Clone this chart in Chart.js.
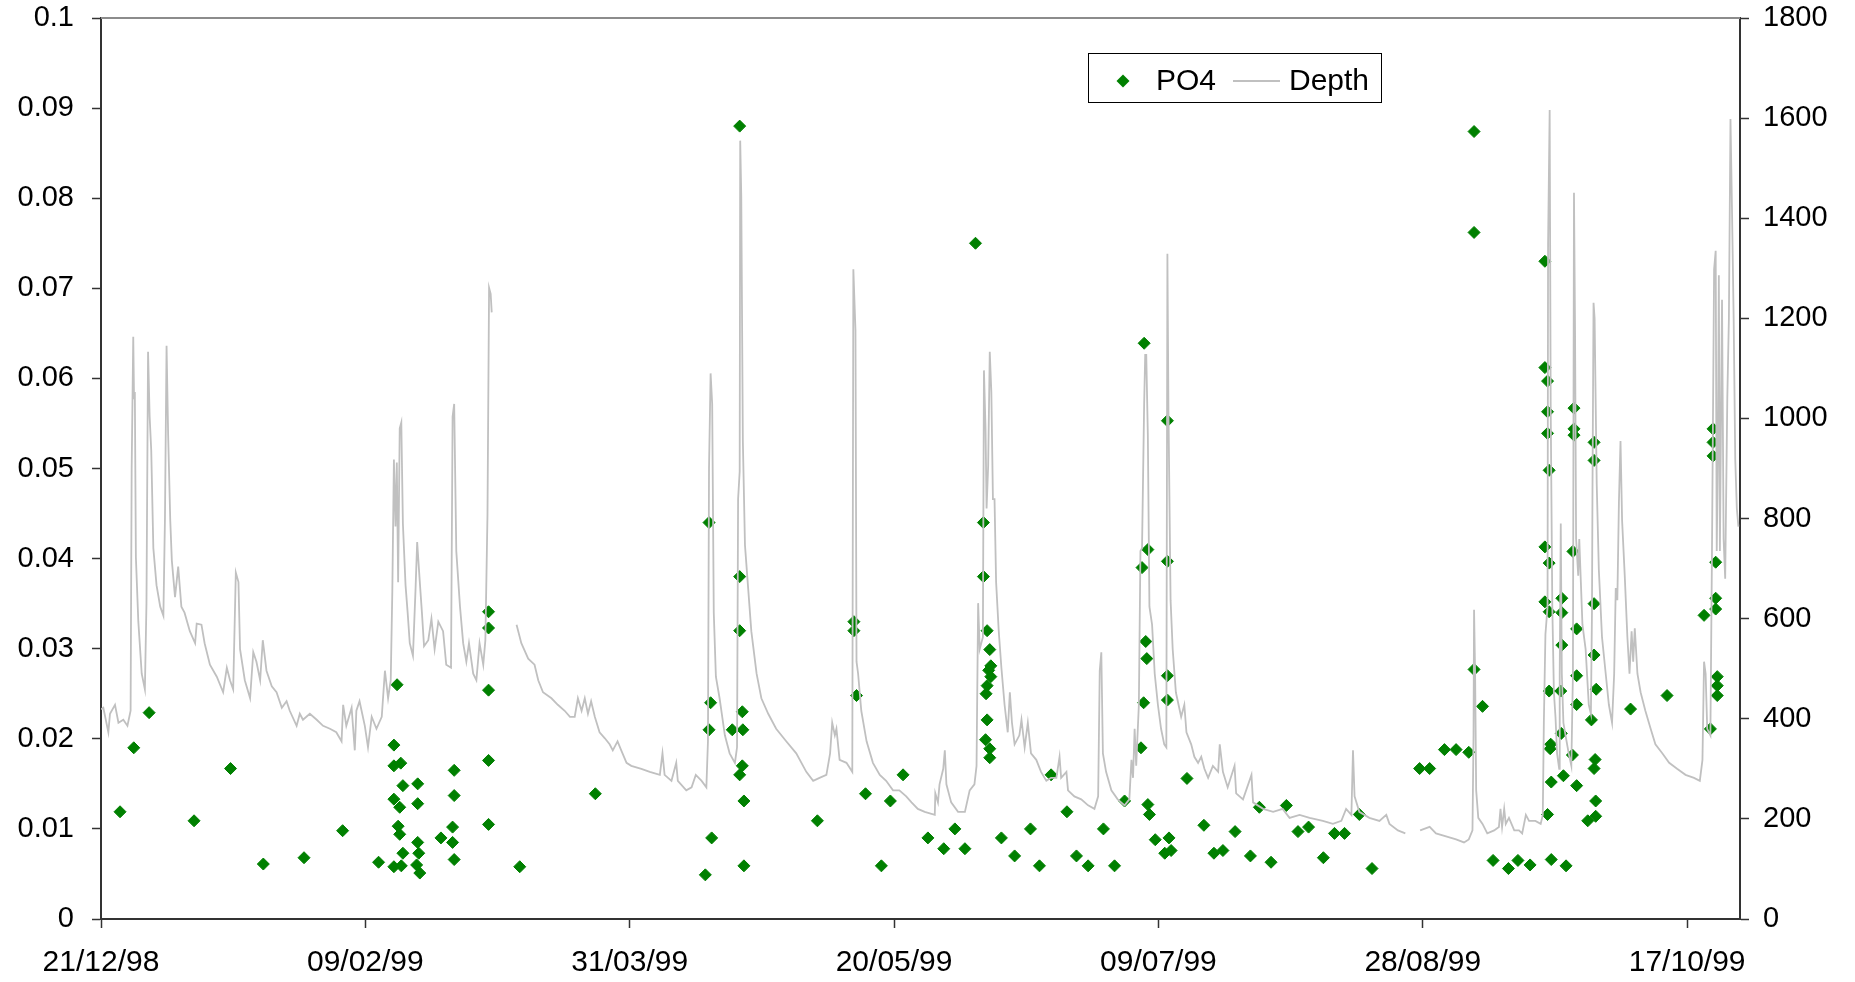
<!DOCTYPE html>
<html>
<head>
<meta charset="utf-8">
<title>PO4 e Depth</title>
<script src="https://cdn.jsdelivr.net/npm/chart.js@4.4.0/dist/chart.umd.min.js"></script>
<style>
    html, body { margin: 0; padding: 0; background: #ffffff; }
</style>
</head>
<body>
<canvas id="chartPO4" width="1855" height="982"></canvas>
<script>
// dias contados a partir de 21/12/98
var xTickDays = [0, 50, 100, 150, 200, 250, 300];
var xTickLabels = ['21/12/98', '09/02/99', '31/03/99', '20/05/99', '09/07/99', '28/08/99', '17/10/99'];
var po4Ticks = [0, 0.01, 0.02, 0.03, 0.04, 0.05, 0.06, 0.07, 0.08, 0.09, 0.1];
var depthTicks = [0, 200, 400, 600, 800, 1000, 1200, 1400, 1600, 1800];

// Depth (linha cinza) - null = falha nos dados
var depthDays = [
    0, 0.44, 1.39, 1.7, 2.65, 3.3, 4.22, 5.0, 5.6, 5.8, 6.1, 6.25, 6.4, 6.6, 7.06, 7.7, 8.3, 8.6, 8.9, 9.2,
    9.5, 9.9, 10.5, 11.2, 11.8, 12.1, 12.4, 12.7, 13.1, 13.4, 14.0, 14.6, 15.2, 15.8, 16.8, 17.8, 18.1, 19.0, 19.6, 20.6,
    21.9, 23.1, 23.8, 24.4, 25.0, 25.5, 26.0, 26.3, 27.2, 28.2, 28.8, 29.4, 30.1, 30.6, 31.3, 32.3, 33.2, 34.2, 35.1, 35.7,
    37.0, 37.6, 38.2, 39.5, 40.8, 42.0, 43.3, 44.5, 45.5, 45.8, 46.4, 47.4, 48.0, 48.3, 48.9, 49.9, 50.5, 51.2, 52.1, 53.1,
    53.7, 54.3, 54.8, 55.1, 55.4, 55.7, 55.95, 56.2, 56.5, 56.8, 57.1, 57.6, 58.0, 58.4, 59.0, 59.5, 59.8, 60.3, 60.7, 61.1,
    61.9, 62.5, 63.1, 63.8, 64.7, 65.3, 66.2, 66.5, 66.8, 67.2, 67.9, 68.5, 69.1, 69.6, 70.4, 71.0, 71.6, 72.3, 72.7, 73.1,
    73.4, 73.7, 73.9, 76, 78.6, 79.5, 80.8, 82.0, 82.7, 83.6, 85.2, 86.4, 87.7, 88.7, 89.6, 90.2, 90.9, 91.5, 92.1, 92.7,
    93.4, 94.3, 95.3, 96.2, 96.8, 97.7, 98.4, 99.4, 100.3, 102.2, 103.8, 105.7, 106.2, 106.6, 107.9, 108.8, 109.1, 110.7, 111.7, 112.5,
    113.6, 114.5, 114.8, 115.0, 115.3, 115.6, 115.9, 116.3, 117.0, 118.0, 118.9, 119.9, 120.3, 120.5, 120.8, 120.9, 121.1, 121.4, 121.8, 122.4,
    123.0, 124.0, 124.9, 126.2, 127.7, 129.6, 131.5, 133.4, 134.7, 135.9, 137.2, 137.9, 138.3, 138.8, 139.1, 139.7, 141.0, 142.1, 142.3, 142.7,
    142.9, 143.2, 143.8, 144.8, 146.0, 147.3, 148.5, 149.8, 151.0, 152.3, 153.3, 154.5, 155.8, 157.7, 157.8, 158.3, 158.6, 159.3, 159.6, 159.9,
    160.8, 162.1, 163.4, 164.3, 165.2, 165.6, 165.9, 166.2, 166.8, 167.0, 167.3, 167.5, 167.8, 168.1, 168.4, 168.7, 169.0, 169.3, 169.8, 170.3,
    170.9, 171.5, 171.9, 172.3, 172.8, 173.7, 174.1, 174.7, 175.3, 175.9, 176.9, 177.8, 178.8, 179.7, 180.7, 181.3, 181.6, 182.6, 182.9, 184.1,
    185.4, 186.7, 187.9, 188.6, 188.9, 189.2, 189.5, 190.1, 191.1, 192.3, 193.6, 194.5, 194.9, 195.2, 195.5, 195.8, 196.3, 196.6, 196.9, 197.3,
    197.5, 197.7, 198.0, 198.3, 198.8, 199.3, 199.9, 200.5, 201.1, 201.5, 201.7, 201.9, 202.3, 202.7, 203.3, 204.3, 204.9, 205.3, 206.2, 206.8,
    207.5, 208.1, 208.7, 209.4, 210.3, 211.3, 211.6, 212.2, 213.1, 214.4, 214.7, 216.0, 217.6, 217.9, 219.8, 221.7, 223.5, 224.8, 226.7, 228.6,
    231.1, 233.0, 234.6, 235.5, 236.5, 236.8, 237.1, 238.0, 239.9, 241.8, 243.1, 243.7, 245.3, 246.7, 248, 249.5, 251.3, 252.5, 254.4, 256.3,
    257.8, 258.7, 259.4, 259.6, 259.7, 259.9, 260.1, 260.5, 261.3, 262.2, 263.5, 264.4, 264.7, 265.0, 265.4, 265.7, 266.3, 267.3, 268.2, 268.8,
    269.5, 270.1, 271.3, 272.3, 272.7, 272.9, 273.2, 273.6, 273.7, 274.0, 274.2, 274.5, 274.8, 275.1, 275.4, 275.8, 275.9, 276.1, 276.3, 276.6,
    277.0, 277.6, 278.1, 278.4, 278.6, 278.8, 279.0, 279.4, 279.6, 279.9, 280.2, 280.8, 281.4, 281.8, 282.0, 282.1, 282.3, 282.5, 282.9, 283.3,
    283.9, 284.6, 285.2, 285.8, 286.2, 286.5, 286.8, 287.1, 287.4, 287.7, 288.2, 288.7, 289.1, 289.5, 289.8, 290.1, 290.6, 291.2, 292.1, 293.1,
    294.0, 295.3, 296.6, 298.1, 299.7, 301.3, 302.4, 302.9, 303.2, 303.5, 303.8, 304.4, 304.7, 305.1, 305.4, 305.6, 305.8, 306.0, 306.2, 306.6,
    306.9, 307.2, 307.6, 307.9, 308.2, 308.5, 308.8, 309.1, 309.4, 309.7
];
var depthValues = [
    419, 422, 373, 410, 428, 392, 398, 386, 416, 900, 1163, 1040, 1053, 722, 594, 490, 459, 631, 1133, 1004,
    937, 741, 667, 624, 606, 802, 1145, 967, 796, 716, 643, 704, 624, 612, 575, 551, 590, 588, 551, 508,
    484, 453, 502, 477, 459, 692, 673, 539, 477, 441, 533, 514, 477, 557, 496, 465, 453, 422, 435, 416,
    386, 410, 398, 410, 398, 386, 380, 373, 355, 428, 386, 422, 337, 416, 435, 386, 343, 404, 380, 404,
    496, 441, 477, 655, 918, 784, 912, 673, 980, 992, 790, 667, 612, 551, 526, 661, 753, 673, 612, 545,
    557, 600, 539, 594, 575, 508, 502, 1004, 1029, 735, 624, 551, 514, 551, 490, 477, 551, 508, 557, 808,
    1261, 1249, 1212, null, 588, 551, 520, 508, 477, 453, 441, 428, 416, 404, 404, 441, 416, 441, 410, 435,
    404, 373, 361, 349, 337, 355, 337, 312, 306, 300, 294, 288, 331, 288, 276, 312, 276, 257, 263, 288,
    276, 263, 355, 900, 1090, 1029, 612, 484, 441, 367, 331, 312, 343, 839, 894, 1555, 1445, 955, 747, 661,
    575, 490, 441, 410, 380, 355, 331, 294, 276, 282, 288, 331, 392, 367, 380, 318, 312, 294, 1298, 1176,
    514, 490, 416, 355, 312, 288, 276, 257, 257, 245, 233, 220, 214, 208, 251, 233, 269, 300, 337, 269,
    233, 214, 214, 257, 269, 306, 631, 539, 563, 1096, 980, 820, 906, 1133, 1053, 839, 839, 673, 575, 502,
    428, 373, 453, 392, 349, 367, 398, 343, 392, 331, 318, 294, 276, 282, 282, 324, 282, 294, 257, 245,
    239, 227, 220, 245, 496, 533, 331, 294, 257, 239, 227, 239, 318, 282, 380, 306, 428, 735, 741, 1029,
    1127, 1127, 967, 624, 588, 490, 428, 380, 349, 343, 1329, 1016, 637, 539, 453, 404, 428, 373, 349, 324,
    312, 324, 300, 282, 306, 294, 349, 294, 263, 306, 251, 239, 288, 233, 220, 214, 220, 202, 208, 202,
    196, 190, 196, 220, 208, 337, 245, 214, 202, 196, 208, 190, 177, 171, null, 177, 184, 171, 165, 159,
    153, 159, 177, 367, 618, 490, 257, 202, 190, 171, 177, 184, 220, 184, 220, 190, 202, 177, 177, 171,
    208, 196, 196, 190, 208, 392, 569, 624, 1347, 1616, 1016, 624, 453, 404, 331, 300, 490, 790, 490, 392,
    367, 331, 306, 490, 1451, 1176, 759, 686, 759, 673, 588, 539, 428, 410, 612, 857, 1231, 1200, 869, 698,
    563, 490, 428, 392, 490, 661, 637, 833, 955, 796, 686, 563, 490, 575, 514, 581, 490, 453, 416, 380,
    349, 331, 312, 300, 288, 282, 276, 318, 514, 490, 380, 367, 735, 1298, 1335, 735, 918, 1286, 735, 1237,
    759, 680, 1041, 1200, 1598, 1408, 1200, 918, 820, 784
];

// PO4 (losangos verdes)
var po4Days = [
    3.6, 6.2, 9.1, 17.6, 24.5, 30.7, 38.4, 45.7, 52.5, 55.4, 55.4, 55.4, 55.4, 56.0, 56.2, 56.5, 56.5, 56.7, 57.1, 57.1,
    56.8, 59.9, 59.9, 59.9, 60.1, 59.7, 60.3, 64.3, 66.8, 66.8, 66.5, 66.5, 66.8, 73.3, 73.3, 73.3, 73.3, 73.3, 79.2, 93.5,
    114.3, 115.0, 115.0, 115.3, 115.5, 119.4, 120.8, 120.8, 120.8, 120.8, 121.3, 121.4, 121.3, 121.6, 121.6, 135.5, 142.4, 142.4, 142.9, 144.6,
    147.6, 149.3, 151.7, 156.4, 159.4, 161.5, 163.4, 165.4, 166.9, 166.9, 167.6, 168.1, 168.3, 167.9, 168.3, 167.6, 167.4, 167.6, 167.3, 168.1,
    168.1, 170.3, 172.8, 175.8, 177.5, 179.7, 182.7, 184.5, 186.7, 189.6, 191.7, 193.6, 196.7, 196.9, 197.2, 197.3, 197.6, 197.8, 198.0, 198.0,
    198.3, 199.4, 201.2, 201.7, 201.7, 201.7, 201.7, 202.0, 202.4, 205.4, 208.6, 210.5, 212.2, 214.5, 217.4, 219.1, 221.3, 224.2, 226.4, 228.4,
    231.2, 233.3, 235.2, 238.0, 240.4, 249.4, 251.3, 254.1, 256.3, 258.7, 259.7, 259.7, 259.7, 261.3, 263.3, 266.2, 268.0, 270.3, 273.1, 273.1,
    273.6, 273.6, 273.6, 273.9, 273.1, 273.9, 273.1, 273.9, 273.9, 273.6, 274.2, 274.1, 274.3, 274.3, 276.1, 276.3, 276.3, 276.3, 276.2, 276.6,
    277.1, 278.6, 278.6, 278.6, 278.4, 279.1, 279.1, 279.1, 278.3, 279.1, 282.4, 282.4, 282.4, 282.4, 282.8, 281.9, 282.6, 282.4, 282.7, 281.2,
    282.7, 289.3, 296.2, 303.2, 304.4, 304.9, 304.9, 304.9, 305.4, 305.4, 305.4, 305.7, 305.7, 305.7
];
var po4Values = [
    0.0119, 0.0190, 0.0229, 0.0109, 0.0167, 0.0061, 0.0068, 0.0098, 0.0063, 0.0193, 0.0170, 0.0133, 0.0058, 0.0260, 0.0103, 0.0124, 0.0094, 0.0173, 0.0148, 0.0073,
    0.0059, 0.0150, 0.0128, 0.0085, 0.0073, 0.0060, 0.0051, 0.0090, 0.0165, 0.0137, 0.0102, 0.0085, 0.0066, 0.0341, 0.0323, 0.0254, 0.0176, 0.0105, 0.0058, 0.0139,
    0.0049, 0.0440, 0.0210, 0.0240, 0.0090, 0.0210, 0.0880, 0.0380, 0.0320, 0.0160, 0.0230, 0.0210, 0.0170, 0.0131, 0.0059, 0.0109, 0.0330, 0.0320, 0.0248, 0.0139,
    0.0059, 0.0131, 0.0160, 0.0090, 0.0078, 0.0100, 0.0078, 0.0750, 0.0440, 0.0380, 0.0320, 0.0299, 0.0281, 0.0276, 0.0269, 0.0259, 0.0250, 0.0221, 0.0199, 0.0189,
    0.0179, 0.0090, 0.0070, 0.0100, 0.0059, 0.0160, 0.0119, 0.0070, 0.0059, 0.0100, 0.0059, 0.0131, 0.0190, 0.0390, 0.0240, 0.0639, 0.0308, 0.0289, 0.0410, 0.0127,
    0.0116, 0.0088, 0.0073, 0.0553, 0.0397, 0.0270, 0.0243, 0.0090, 0.0076, 0.0156, 0.0104, 0.0073, 0.0076, 0.0097, 0.0070, 0.0124, 0.0063, 0.0126, 0.0097, 0.0102,
    0.0068, 0.0095, 0.0095, 0.0116, 0.0056, 0.0167, 0.0167, 0.0188, 0.0188, 0.0185, 0.0874, 0.0762, 0.0277, 0.0236, 0.0065, 0.0056, 0.0065, 0.0060, 0.0730, 0.0612,
    0.0597, 0.0563, 0.0539, 0.0498, 0.0413, 0.0395, 0.0352, 0.0341, 0.0253, 0.0116, 0.0194, 0.0189, 0.0152, 0.0066, 0.0253, 0.0356, 0.0340, 0.0304, 0.0206, 0.0159,
    0.0059, 0.0567, 0.0544, 0.0537, 0.0408, 0.0322, 0.0270, 0.0238, 0.0182, 0.0148, 0.0529, 0.0509, 0.0350, 0.0293, 0.0255, 0.0221, 0.0177, 0.0167, 0.0131, 0.0109,
    0.0114, 0.0233, 0.0248, 0.0337, 0.0211, 0.0544, 0.0529, 0.0514, 0.0396, 0.0356, 0.0344, 0.0269, 0.0259, 0.0248
];

var fonte = '"Liberation Sans", Arial, Helvetica, sans-serif';
Chart.defaults.font.family = fonte;
Chart.defaults.color = '#000000';

function montarPontos(dias, valores) {
    var pontos = [];
    for (var n = 0; n < dias.length; n++) {
        pontos.push({ x: dias[n], y: valores[n] });
    }
    return pontos;
}

// eixos y: largura fixa e sem a folga extra em cima (area do grafico começa em y=18)
function ajustarEixoY(largura) {
    return function(s) {
        s.width = largura;
        s.paddingTop = 18;
        s.paddingBottom = 0;
    };
}

// borda de cima + legenda com caixa, dentro da área do gráfico
var legendaCaixa = {
    id: 'legendaCaixa',
    beforeDatasetsDraw: function(chart) {
        var ctx = chart.ctx;
        var area = chart.chartArea;
        ctx.save();
        ctx.strokeStyle = '#8c8c8c';
        ctx.lineWidth = 2;
        ctx.beginPath();
        ctx.moveTo(area.left, area.top);
        ctx.lineTo(area.right, area.top);
        ctx.stroke();
        ctx.restore();
    },
    afterDraw: function(chart) {
        var ctx = chart.ctx;
        var ds = chart.data.datasets;
        ctx.save();
        ctx.fillStyle = '#ffffff';
        ctx.fillRect(1088.5, 53.5, 293, 49);
        ctx.strokeStyle = '#000000';
        ctx.lineWidth = 1;
        ctx.strokeRect(1088.5, 53.5, 293, 49);

        // losango
        ctx.fillStyle = ds[0].backgroundColor;
        ctx.beginPath();
        ctx.moveTo(1123 - 6.5, 81);
        ctx.lineTo(1123, 81 - 6.5);
        ctx.lineTo(1123 + 6.5, 81);
        ctx.lineTo(1123, 81 + 6.5);
        ctx.closePath();
        ctx.fill();

        // linha
        ctx.strokeStyle = ds[1].borderColor;
        ctx.lineWidth = 2;
        ctx.beginPath();
        ctx.moveTo(1233, 81);
        ctx.lineTo(1280, 81);
        ctx.stroke();

        ctx.fillStyle = '#000000';
        ctx.font = '30px ' + fonte;
        ctx.textBaseline = 'alphabetic';
        ctx.textAlign = 'left';
        ctx.fillText(ds[0].label, 1156, 89.5);
        ctx.fillText(ds[1].label, 1289, 89.5);
        ctx.restore();
    }
};

function plotarGrafico() {
    var ctx = document.getElementById('chartPO4').getContext('2d');
    var myChart = new Chart(ctx, {
        type: 'scatter',
        data: {
            datasets: [{
                type: 'scatter',
                label: 'PO4',
                data: montarPontos(po4Days, po4Values),
                yAxisID: 'y',
                pointStyle: 'rectRot',
                pointRadius: 6,
                pointHoverRadius: 6,
                borderWidth: 1,
                backgroundColor: '#008000',
                borderColor: '#008000',
                order: 1
            }, {
                type: 'line',
                label: 'Depth',
                data: montarPontos(depthDays, depthValues),
                yAxisID: 'y1',
                borderColor: '#c0c0c0',
                borderWidth: 1.8,
                pointRadius: 0,
                tension: 0,
                fill: false,
                spanGaps: false,
                order: 0
            }]
        },
        options: {
            responsive: false,
            animation: false,
            layout: { padding: 0 },
            plugins: {
                legend: { display: false },
                tooltip: { enabled: false }
            },
            scales: {
                x: {
                    type: 'linear',
                    min: 0,
                    max: 310,
                    afterBuildTicks: function(s) {
                        s.ticks = xTickDays.map(function(v) { return { value: v }; });
                    },
                    afterFit: function(s) { s.height = 63; },
                    ticks: {
                        font: { size: 30 },
                        padding: 17,
                        maxRotation: 0,
                        autoSkip: false,
                        callback: function(v) { return xTickLabels[xTickDays.indexOf(v)]; }
                    },
                    grid: { drawOnChartArea: false, tickLength: 9, tickColor: '#333333', tickWidth: 1.5 },
                    border: { color: '#333333', width: 2 }
                },
                y: {
                    position: 'left',
                    min: 0,
                    max: 0.1,
                    afterBuildTicks: function(s) {
                        s.ticks = po4Ticks.map(function(v) { return { value: v }; });
                    },
                    afterFit: ajustarEixoY(101),
                    ticks: {
                        font: { size: 29 },
                        padding: 18,
                        callback: function(v) { return parseFloat(v.toFixed(2)).toString(); }
                    },
                    grid: { drawOnChartArea: false, tickLength: 9, tickColor: '#333333', tickWidth: 1.5 },
                    border: { color: '#333333', width: 2 }
                },
                y1: {
                    position: 'right',
                    min: 0,
                    max: 1800,
                    afterBuildTicks: function(s) {
                        s.ticks = depthTicks.map(function(v) { return { value: v }; });
                    },
                    afterFit: ajustarEixoY(115),
                    ticks: {
                        font: { size: 29 },
                        padding: 14,
                        callback: function(v) { return String(v); }
                    },
                    grid: { drawOnChartArea: false, tickLength: 9, tickColor: '#333333', tickWidth: 1.5 },
                    border: { color: '#333333', width: 2 }
                }
            }
        },
        plugins: [legendaCaixa]
    });
    return myChart;
}

plotarGrafico();
</script>
</body>
</html>
